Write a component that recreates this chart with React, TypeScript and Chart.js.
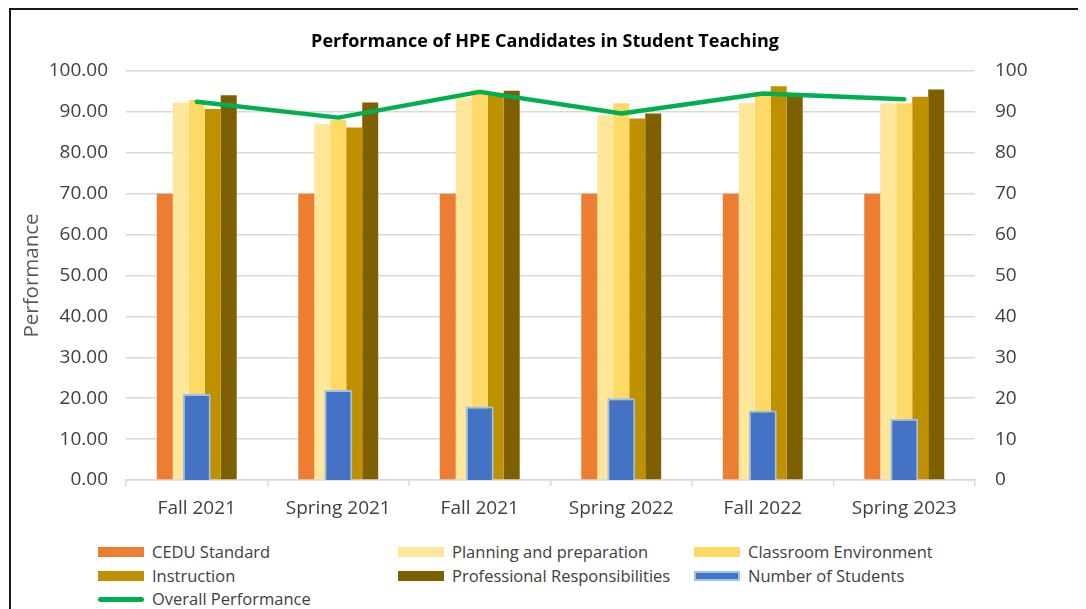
import React, { useEffect, useRef } from "react";
import { Chart, registerables } from "chart.js";

Chart.register(...registerables);

const categories = ["Fall 2021", "Spring 2021", "Fall 2021", "Spring 2022", "Fall 2022", "Spring 2023"];
const ceduStandard = [70, 70, 70, 70, 70, 70];
const planning = [92.3, 87.0, 93.6, 89.2, 92.1, 92.1];
const classroom = [92.9, 88.0, 95.5, 92.1, 94.8, 92.1];
const instruction = [90.7, 86.2, 94.5, 88.4, 96.3, 93.7];
const professional = [94.1, 92.3, 95.2, 89.6, 94.4, 95.5];
const students = [21, 22, 18, 20, 17, 15];
const overall = [92.5, 88.6, 94.9, 89.6, 94.5, 93.1];
const leftTicks = [0, 10, 20, 30, 40, 50, 60, 70, 80, 90, 100];

const FONT = "'Open Sans', 'Noto Sans', sans-serif";
const TXT = "#404040";
const GRID = "#D9D9D9";

const COLORS = {
  cedu: "#ED7D31",
  planning: "#FFE699",
  classroom: "#FFD966",
  instruction: "#BF9000",
  professional: "#7F6000",
  students: "#4472C4",
  studentsBorder: "#9DC3E6",
  overall: "#00B050",
};

const legendItems = [
  { label: "CEDU Standard", color: COLORS.cedu, kind: "bar" },
  { label: "Planning and preparation", color: COLORS.planning, kind: "bar" },
  { label: "Classroom Environment", color: COLORS.classroom, kind: "bar" },
  { label: "Instruction", color: COLORS.instruction, kind: "bar" },
  { label: "Professional Responsibilities", color: COLORS.professional, kind: "bar" },
  { label: "Number of Students", color: COLORS.students, kind: "barBorder" },
  { label: "Overall Performance", color: COLORS.overall, kind: "line" },
];

const CAT_PCT = 0.565;

export default function App() {
  const ref = useRef<HTMLCanvasElement | null>(null);

  useEffect(() => {
    if (!ref.current) return;
    const barBase = { categoryPercentage: CAT_PCT, barPercentage: 1.0, borderWidth: 0, order: 2, yAxisID: "y" };
    const chart = new Chart(ref.current, {
      type: "bar",
      data: {
        labels: categories,
        datasets: [
          {
            type: "line",
            label: "Overall Performance",
            data: overall,
            borderColor: COLORS.overall,
            backgroundColor: COLORS.overall,
            borderWidth: 4.5,
            pointRadius: 0,
            tension: 0,
            order: 0,
            yAxisID: "y",
            borderCapStyle: "round",
            borderJoinStyle: "round",
          } as any,
          {
            label: "Number of Students",
            data: students,
            backgroundColor: COLORS.students,
            borderColor: COLORS.studentsBorder,
            borderWidth: 2,
            grouped: false,
            categoryPercentage: CAT_PCT,
            barPercentage: 0.35,
            order: 1,
            yAxisID: "y1",
          } as any,
          { ...barBase, label: "CEDU Standard", data: ceduStandard, backgroundColor: COLORS.cedu },
          { ...barBase, label: "Planning and preparation", data: planning, backgroundColor: COLORS.planning },
          { ...barBase, label: "Classroom Environment", data: classroom, backgroundColor: COLORS.classroom },
          { ...barBase, label: "Instruction", data: instruction, backgroundColor: COLORS.instruction },
          { ...barBase, label: "Professional Responsibilities", data: professional, backgroundColor: COLORS.professional },
        ],
      },
      options: {
        responsive: false,
        animation: false,
        devicePixelRatio: 1,
        layout: { padding: 0 },
        plugins: {
          legend: { display: false },
          tooltip: { enabled: false },
          title: {
            display: true,
            text: "Performance of HPE Candidates in Student Teaching",
            color: "#000000",
            font: { family: FONT, size: 18, weight: "bold" },
            padding: { top: 21, bottom: 18.4 },
          },
        },
        scales: {
          x: {
            grid: { display: true, drawOnChartArea: false, drawTicks: true, tickLength: 6, color: GRID, lineWidth: 1.5, offset: true },
            border: { display: true, color: GRID, width: 1.5 },
            ticks: { color: TXT, font: { family: FONT, size: 19 }, padding: 11 },
            afterFit: (s: any) => { s.height = 60; },
          },
          y: {
            position: "left",
            min: 0,
            max: 100,
            afterBuildTicks: (s: any) => { s.ticks = leftTicks.map((v) => ({ value: v })); },
            ticks: { color: TXT, font: { family: FONT, size: 19 }, padding: 18, callback: (v: any) => Number(v).toFixed(2) },
            grid: { color: GRID, lineWidth: 1.5, drawTicks: false },
            border: { display: false },
            title: { display: true, text: "Performance", color: "#595959", font: { family: FONT, size: 20.5 }, padding: { top: 9, bottom: 0 } },
            afterFit: (s: any) => { s.width = 115; },
          },
          y1: {
            position: "right",
            min: 0,
            max: 100,
            afterBuildTicks: (s: any) => { s.ticks = leftTicks.map((v) => ({ value: v })); },
            ticks: { color: TXT, font: { family: FONT, size: 19 }, padding: 20, callback: (v: any) => String(v) },
            grid: { display: false, drawTicks: false },
            border: { display: false },
            afterFit: (s: any) => { s.width = 104; },
          },
        },
      },
    });
    return () => chart.destroy();
  }, []);

  const colX = [87, 387, 683];
  const rowY = [542, 566, 589];

  return (
    <div
      style={{
        position: "relative",
        width: 1072,
        height: 630,
        marginLeft: 1,
        border: "2px solid #1a1a1a",
        boxSizing: "border-box",
        background: "#fff",
      }}
    >
      <canvas ref={ref} width={1068} height={530} style={{ display: "block" }} />
      {legendItems.map((it, i) => {
        const col = i % 3;
        const row = Math.floor(i / 3);
        const swatch =
          it.kind === "line" ? (
            <div style={{ position: "absolute", left: 0, top: -2, width: 46, height: 4.5, borderRadius: 3, background: it.color }} />
          ) : it.kind === "barBorder" ? (
            <div style={{ position: "absolute", left: 0, top: -5, width: 46, height: 10, boxSizing: "border-box", border: `2px solid ${COLORS.studentsBorder}`, background: it.color }} />
          ) : (
            <div style={{ position: "absolute", left: 0, top: -5, width: 46, height: 10, background: it.color }} />
          );
        return (
          <div key={i} style={{ position: "absolute", left: colX[col], top: rowY[row], height: 0 }}>
            {swatch}
            <span
              style={{
                position: "absolute",
                left: 54,
                top: -12,
                whiteSpace: "nowrap",
                fontFamily: FONT,
                fontSize: 16.5,
                lineHeight: "24px",
                color: TXT,
              }}
            >
              {it.label}
            </span>
          </div>
        );
      })}
    </div>
  );
}
